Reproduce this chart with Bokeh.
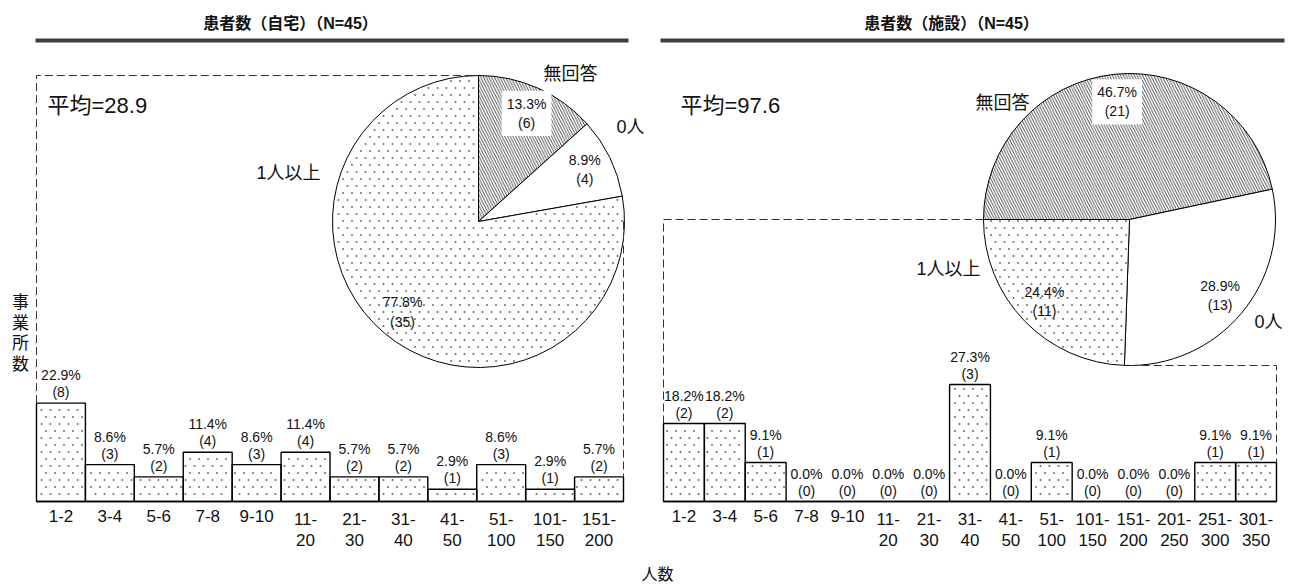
import math
from bokeh.plotting import figure
from bokeh.models import Range1d
from bokeh.core.properties import value
from bokeh.embed import file_html
from bokeh.resources import INLINE

# ---------------- data ----------------
home_title = "患者数（自宅）（N=45）"
fac_title = "患者数（施設）（N=45）"
home_mean = "平均=28.9"
fac_mean = "平均=97.6"

pie_labels = ["無回答", "0人", "1人以上"]
home_pie_counts = [6, 4, 35]
home_pie_pct = [13.3, 8.9, 77.8]
fac_pie_counts = [21, 13, 11]
fac_pie_pct = [46.7, 28.9, 24.4]

home_cats = ["1-2", "3-4", "5-6", "7-8", "9-10", "11-\n20", "21-\n30", "31-\n40",
             "41-\n50", "51-\n100", "101-\n150", "151-\n200"]
home_counts = [8, 3, 2, 4, 3, 4, 2, 2, 1, 3, 1, 2]
home_pct = [22.9, 8.6, 5.7, 11.4, 8.6, 11.4, 5.7, 5.7, 2.9, 8.6, 2.9, 5.7]

fac_cats = ["1-2", "3-4", "5-6", "7-8", "9-10", "11-\n20", "21-\n30", "31-\n40",
            "41-\n50", "51-\n100", "101-\n150", "151-\n200", "201-\n250", "251-\n300", "301-\n350"]
fac_counts = [2, 2, 1, 0, 0, 0, 0, 3, 0, 1, 0, 0, 0, 1, 1]
fac_pct = [18.2, 18.2, 9.1, 0.0, 0.0, 0.0, 0.0, 27.3, 0.0, 9.1, 0.0, 0.0, 0.0, 9.1, 9.1]

y_label = "事業所数"
x_label = "人数"

# ---------------- figure ----------------
FONT = value("Liberation Sans, Noto Sans CJK JP")
TXT = "#111111"
W, H = 1293, 585
p = figure(width=W, height=H, x_range=Range1d(0, W), y_range=Range1d(0, H),
           output_backend="svg", toolbar_location=None, min_border=0)
p.axis.visible = False
p.grid.visible = False
p.outline_line_color = None
p.background_fill_color = "white"
p.border_fill_color = "white"


def Y(row):
    return H - row


def txt(xs, ys, texts, size, align="center", baseline="middle", **kw):
    p.text(x=xs, y=ys, text=texts, text_font=FONT, text_font_size=f"{size}px",
           text_align=align, text_baseline=baseline, text_color=TXT, **kw)


# dotted texture (staggered grid of small dots), drawn inside shapes
DX, DY = 9.0, 7.0


def dot_fill(pred, xmin, xmax, ymin, ymax):
    xs, ys = [], []
    for j in range(int(ymin // DY) - 1, int(ymax // DY) + 2):
        yy = j * DY + 0.5
        off = (j % 2) * DX / 2
        for i in range(int((xmin - off) // DX) - 1, int((xmax - off) // DX) + 2):
            xx = i * DX + off + 0.5
            if pred(xx, yy):
                xs.append(xx)
                ys.append(yy)
    if xs:
        p.scatter(x=xs, y=ys, marker="square", size=1.6, fill_color="#4a4a4a",
                  line_color=None)


def bars(x0, x1, base_row, k, cats, counts, pcts):
    n = len(cats)
    w = (x1 - x0) / n
    lefts = [x0 + i * w for i in range(n)]
    rights = [l + w for l in lefts]
    base = Y(base_row)
    tops = [base + c * k for c in counts]
    p.quad(left=lefts, right=rights, bottom=[base] * n, top=tops, fill_color="white",
           line_color=None)

    def inside(xx, yy):
        for l, r, t in zip(lefts, rights, tops):
            if l + 2 < xx < r - 2 and base + 2 < yy < t - 2:
                return True
        return False

    dot_fill(inside, x0, x1, base, max(tops))
    p.quad(left=lefts, right=rights, bottom=[base] * n, top=tops, fill_color=None,
           line_color="black", line_width=1.4)
    p.line([x0, x1], [base, base], line_color="black", line_width=1.5)
    centers = [l + w / 2 for l in lefts]
    txt(centers, [t + 11 for t in tops], [f"({c})" for c in counts], 14)
    txt(centers, [t + 28 for t in tops], [f"{v:.1f}%" for v in pcts], 14)
    txt(centers, [base - 8] * n, cats, 17, baseline="top", text_line_height=1.15)
    return lefts, rights, tops


def pie(cx, cy_row, r, start_deg, counts, pcts):
    cy = Y(cy_row)
    total = sum(counts)
    cum = 0
    labels = []
    for j, (c, pc) in enumerate(zip(counts, pcts)):
        a0 = start_deg - cum * 360 / total
        cum += c
        a1 = start_deg - cum * 360 / total
        hatch = {}
        if j == 0:
            hatch = dict(hatch_pattern="left_diagonal_line", hatch_scale=5.5,
                         hatch_color="#3a3a3a", hatch_weight=0.9)
        p.wedge(x=[cx], y=[cy], radius=r, start_angle=math.radians(a1),
                end_angle=math.radians(a0), direction="anticlock", fill_color="white",
                line_color=None, **hatch)
        if j == 2:
            span = a0 - a1

            def inside(xx, yy, a0=a0, span=span):
                dx, dy = xx - cx, yy - cy
                rr = math.hypot(dx, dy)
                if rr > r - 2 or rr < 3:
                    return False
                th = math.degrees(math.atan2(dy, dx))
                d = (a0 - th) % 360
                margin = math.degrees(1.5 / rr)
                return margin < d < span - margin

            dot_fill(inside, cx - r, cx + r, cy - r, cy + r)
        p.wedge(x=[cx], y=[cy], radius=r, start_angle=math.radians(a1),
                end_angle=math.radians(a0), direction="anticlock", fill_color=None,
                line_color="black", line_width=1)
        mid = math.radians((a0 + a1) / 2)
        labels.append((cx + 0.81 * r * math.cos(mid), cy + 0.81 * r * math.sin(mid),
                       f"{pc:.1f}%\n({c})", j == 0))
    for lx, ly, s, boxed in labels:
        kw = dict(background_fill_color="white", padding=5) if boxed else {}
        txt([lx], [ly], [s], 14, text_line_height=1.2, **kw)
    return cy


# ---------------- titles ----------------
txt([290], [Y(23)], [home_title], 16, text_font_style="bold")
txt([951], [Y(23)], [fac_title], 16, text_font_style="bold")
p.line([35, 628], [Y(40), Y(40)], line_color="#404040", line_width=4)
p.line([660, 1284], [Y(40), Y(40)], line_color="#404040", line_width=4)

DASH = dict(line_color="#333333", line_width=1, line_dash="8 4")
R = 146

# ---------------- left panel ----------------
lcx, lcy_row = 478, 221
lcy = pie(lcx, lcy_row, R, 90, home_pie_counts, home_pie_pct)
ll, lr, lt = bars(36, 623, 501, 12.3, home_cats, home_counts, home_pct)
p.line([ll[0], ll[0], lcx], [lt[0], lcy + R, lcy + R], **DASH)
p.line([lr[-1], lr[-1]], [lcy, lt[-1]], **DASH)
txt([47], [Y(105)], [home_mean], 22, align="left")
txt([570, 630, 288], [Y(73), Y(126), Y(172)], pie_labels, 18)

# ---------------- right panel ----------------
rcx, rcy_row = 1129, 219
rcy = pie(rcx, rcy_row, R, 180, fac_pie_counts, fac_pie_pct)
rl, rr, rt = bars(663, 1276, 501, 39, fac_cats, fac_counts, fac_pct)
p.line([rl[0], rl[0], rcx - R], [rt[0], rcy, rcy], **DASH)
p.line([rcx, rr[-1], rr[-1]], [rcy - R, rcy - R, rt[-1]], **DASH)
txt([680], [Y(105)], [fac_mean], 22, align="left")
txt([1002, 1268, 948], [Y(102), Y(321), Y(268)], pie_labels, 18)

# ---------------- axis labels ----------------
txt([20], [Y(333)], ["\n".join(y_label)], 17, text_line_height=1.08)
txt([657], [Y(574)], [x_label], 16)

open("out.html", "w").write(file_html(p, INLINE))
